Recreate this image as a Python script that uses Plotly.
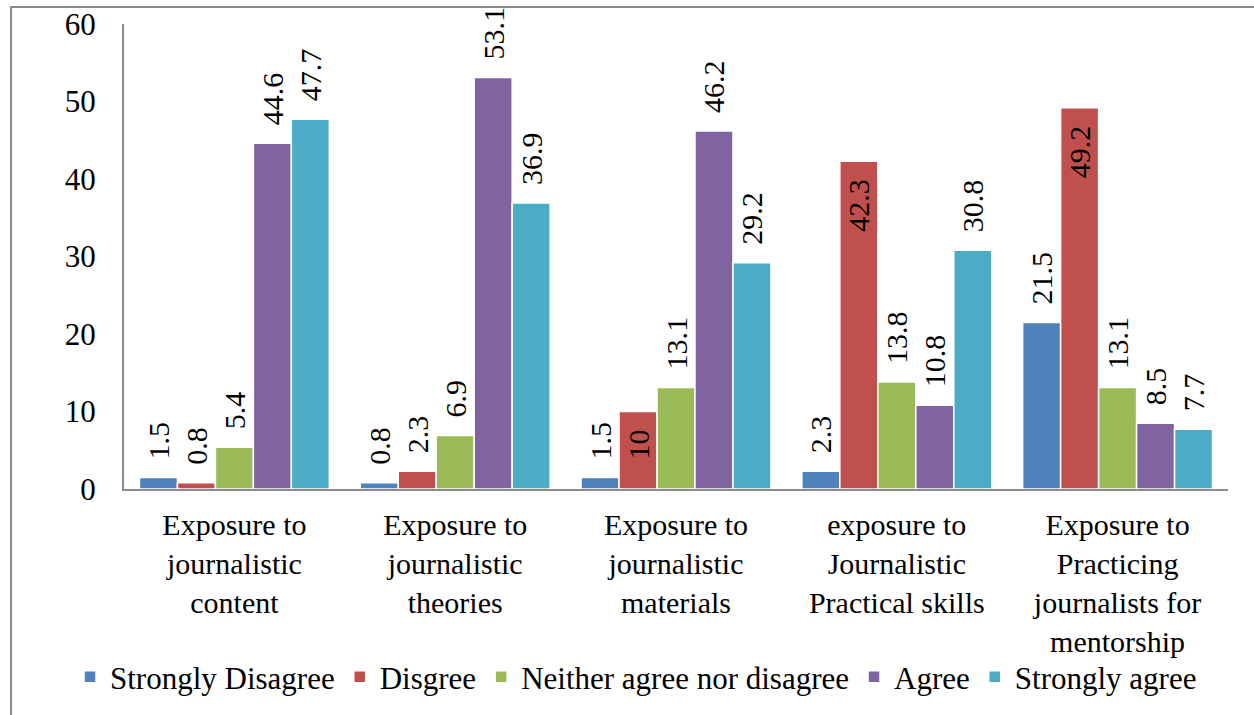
import plotly.graph_objects as go

categories = [
    "Exposure to<br>journalistic<br>content",
    "Exposure to<br>journalistic<br>theories",
    "Exposure to<br>journalistic<br>materials",
    "exposure to<br>Journalistic<br>Practical skills",
    "Exposure to<br>Practicing<br>journalists for<br>mentorship",
]

strongly_disagree = [1.5, 0.8, 1.5, 2.3, 21.5]
disagree = [0.8, 2.3, 10, 42.3, 49.2]
neither = [5.4, 6.9, 13.1, 13.8, 13.1]
agree = [44.6, 53.1, 46.2, 10.8, 8.5]
strongly_agree = [47.7, 36.9, 29.2, 30.8, 7.7]

# labels drawn inside the top of the bar instead of above it
disagree_inside = [False, False, True, True, True]

series = [
    ("Strongly Disagree", strongly_disagree, "#4F81BD", None),
    ("Disgree", disagree, "#C0504D", disagree_inside),
    ("Neither agree nor disagree", neither, "#9BBB59", None),
    ("Agree", agree, "#8064A2", None),
    ("Strongly agree", strongly_agree, "#4BACC6", None),
]

FONT = "Liberation Serif, Times New Roman, DejaVu Serif, serif"
LABEL_FS = 30
TICK_FS = 31
XTICK_FS = 30
LEGEND_FS = 31
PAD = "\u00a0\u00a0"  # spacing between a value label and its bar end

fig = go.Figure()
for name, vals, color, inside in series:
    is_in = [bool(inside and inside[i]) for i in range(len(vals))]
    fig.add_trace(go.Bar(
        name=name,
        x=categories,
        y=vals,
        marker=dict(color=color, line=dict(color="white", width=1.5)),
        text=[(f"{v:g}" + PAD) if inn else (PAD + f"{v:g}") for v, inn in zip(vals, is_in)],
        textposition=["inside" if inn else "outside" for inn in is_in],
        insidetextanchor="end",
        textangle=-90,
        constraintext="none",
        cliponaxis=False,
        textfont=dict(family=FONT, size=LABEL_FS, color="black"),
        insidetextfont=dict(family=FONT, size=LABEL_FS, color="black"),
        outsidetextfont=dict(family=FONT, size=LABEL_FS, color="black"),
    ))

W, H = 1254, 715
ml, mr, mt, mb = 124, 26, 24, 226
pw, ph = W - ml - mr, H - mt - mb

def px_x(p):
    return (p - ml) / pw

def px_y(p):
    return (H - mb - p) / ph

fig.update_layout(
    width=W,
    height=H,
    margin=dict(l=ml, r=mr, t=mt, b=mb, autoexpand=False),
    paper_bgcolor="white",
    plot_bgcolor="white",
    barmode="group",
    bargap=0.14,
    bargroupgap=0,
    font=dict(family=FONT, size=TICK_FS, color="black"),
    showlegend=True,
    legend=dict(
        orientation="h",
        x=px_x(70),
        xanchor="left",
        y=px_y(677),
        yanchor="middle",
        bgcolor="rgba(0,0,0,0)",
        font=dict(family=FONT, size=LEGEND_FS, color="black"),
        itemwidth=30,
        tracegroupgap=0,
    ),
    xaxis=dict(
        automargin=False,
        showline=True,
        linecolor="#8C8C8C",
        linewidth=2,
        ticks="",
        ticklabelstandoff=8,
        tickfont=dict(family=FONT, size=XTICK_FS),
    ),
    yaxis=dict(
        automargin=False,
        range=[0, 60],
        dtick=10,
        showgrid=False,
        zeroline=False,
        showline=True,
        linecolor="#8C8C8C",
        linewidth=2,
        ticks="",
        ticklabelstandoff=20,
        tickfont=dict(family=FONT, size=TICK_FS),
    ),
    shapes=[
        dict(
            type="path",
            xref="paper",
            yref="paper",
            path=f"M {px_x(11)},{px_y(720)} L {px_x(11)},{px_y(7)} L {px_x(1260)},{px_y(7)}",
            line=dict(color="#8C8C8C", width=2),
        )
    ],
)

fig.write_html("out.html")
